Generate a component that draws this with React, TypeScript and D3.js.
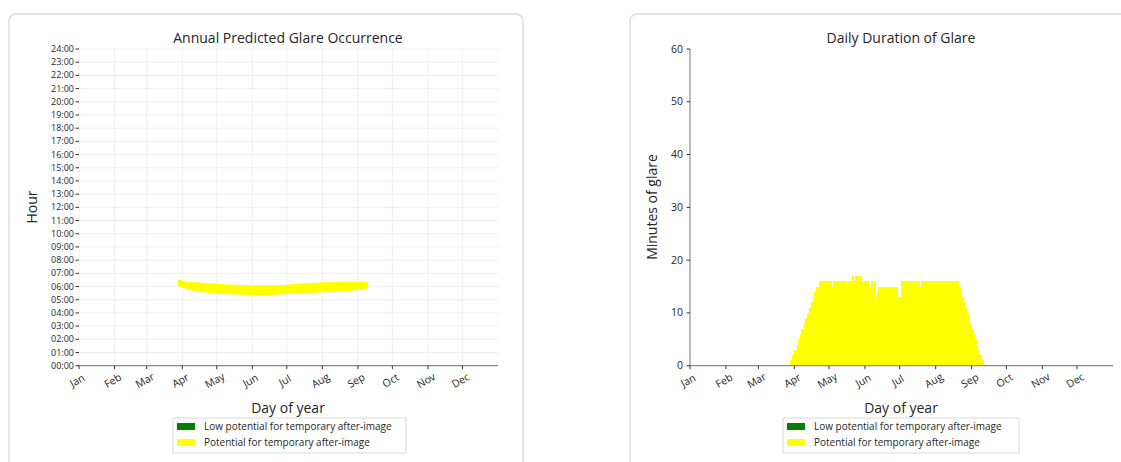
import React from "react";
import * as d3 from "d3";

const monthLabels = ["Jan", "Feb", "Mar", "Apr", "May", "Jun", "Jul", "Aug", "Sep", "Oct", "Nov", "Dec"];
const monthStartDays = [1, 32, 60, 91, 121, 152, 182, 213, 244, 274, 305, 335];
const hourTicks = d3.range(0, 25);
const minuteTicks = [0, 10, 20, 30, 40, 50, 60];

// Daily minutes of glare, starting on day 87 (Mar 28)
const glareFirstDay = 87;
const glareMinutes = [
  1, 1, 2, 2, 3, 3, 4, 5, 5, 6, 7, 7, 8, 9, 9, 10, 10, 11, 12, 12, 13, 14, 14, 15, 15, 16,
  16, 16, 16, 16, 16, 16, 16, 16, 16, 16, 15, 16, 16, 16, 16, 16, 15, 16, 16, 16, 16, 16, 16, 15, 16, 16, 16, 16,
  17, 16, 17, 16, 17, 16, 16, 17, 16,
  15, 16, 15, 16, 16, 15, 15, 16, 15, 15, 16,
  13, 14,
  15, 15, 15, 15, 15, 15, 15, 15, 15, 15, 15, 15, 15, 15, 15, 15, 15,
  13, 13, 13,
  16, 15, 16, 16, 16, 13, 16, 16, 15, 16, 16,
  16, 16, 16, 16, 16, 15, 16, 16, 16, 16, 16, 16, 16, 16, 15, 16, 16, 16, 16, 16, 16, 16, 16, 16, 16, 16, 15, 16, 16, 16, 16, 16, 16, 16, 16, 16, 16, 16,
  15, 15, 14, 13, 13, 12, 11, 10, 10, 9, 8, 7, 7, 6, 5, 5, 4, 3, 2, 2, 1, 1,
];

// Glare time-of-day band (mid time, hours) at key days
const bandDays = [88, 95, 105, 120, 135, 150, 165, 180, 195, 210, 225, 240, 252];
const bandMidHour = [6.27, 6.08, 5.96, 5.85, 5.77, 5.73, 5.73, 5.77, 5.86, 5.92, 5.96, 6.03, 6.1];

const legendItems = [
  { label: "Low potential for temporary after-image", color: "#008000" },
  { label: "Potential for temporary after-image", color: "#ffff00" },
];

const FONT = "'Open Sans', 'DejaVu Sans', sans-serif";
const TEXT = "#262626";
const SPINE = "#8a8a8a";

function minutesOn(day: number) {
  const i = Math.round(day) - glareFirstDay;
  return i >= 0 && i < glareMinutes.length ? glareMinutes[i] : 0;
}

function Legend({ x, y, w }: { x: number; y: number; w: number }) {
  return (
    <g>
      <rect x={x} y={y} width={w} height={35} fill="#fff" stroke="#d9d9d9" strokeWidth={1} />
      {legendItems.map((it, i) => (
        <g key={it.label}>
          <rect x={x + 4} y={y + 5 + i * 16} width={18} height={7} fill={it.color} />
          <text x={x + 31} y={y + 12 + i * 16} fontSize={10} fill={TEXT} fontFamily={FONT}>
            {it.label}
          </text>
        </g>
      ))}
    </g>
  );
}

function XAxis({ x, y0 }: { x: d3.ScaleLinear<number, number>; y0: number }) {
  const [r0, r1] = x.range();
  return (
    <g>
      <line x1={r0} x2={r1} y1={y0} y2={y0} stroke={SPINE} strokeWidth={1.2} />
      {monthStartDays.map((d, i) => (
        <g key={d}>
          <line x1={x(d)} x2={x(d)} y1={y0} y2={y0 + 3.5} stroke="#333" strokeWidth={1} />
          <text
            transform={`translate(${x(d)},${y0 + 18}) rotate(-30)`}
            textAnchor="middle"
            fontSize={10.5}
            fill={TEXT}
            fontFamily={FONT}
          >
            {monthLabels[i]}
          </text>
        </g>
      ))}
    </g>
  );
}

function AnnualChart() {
  const x = d3.scaleLinear().domain([1, 366]).range([79, 498]);
  const y = d3.scaleLinear().domain([0, 24]).range([365.7, 49]);
  const pts = bandDays.map((d, i) => ({ d, h: bandMidHour[i], m: minutesOn(d) }));
  const pxPerMin = (y(0) - y(1)) / 60;
  const area = d3
    .area<{ d: number; h: number; m: number }>()
    .x((p) => x(p.d))
    .y0((p) => y(p.h) + (p.m * pxPerMin) / 2 + 2.2)
    .y1((p) => y(p.h) - (p.m * pxPerMin) / 2 - 2.2)
    .curve(d3.curveMonotoneX);
  const [xa, xb] = x.range();
  return (
    <g>
      <rect x={9} y={14} width={514} height={470} rx={7} fill="#fff" stroke="#dcdcdc" strokeWidth={1.5} />
      {hourTicks.map((h) => (
        <line key={"h" + h} x1={xa} x2={xb} y1={y(h)} y2={y(h)} stroke="#ebebeb" strokeWidth={0.8} />
      ))}
      {monthStartDays.map((d) => (
        <line key={"v" + d} x1={x(d)} x2={x(d)} y1={y(0)} y2={y(24)} stroke="#ebebeb" strokeWidth={0.8} />
      ))}
      <path d={area(pts) || ""} fill="#ffff00" stroke="#ffff00" strokeWidth={2} strokeLinejoin="round" strokeLinecap="round" />
      {hourTicks.map((h) => (
        <g key={"t" + h}>
          <line x1={xa - 3.5} x2={xa} y1={y(h)} y2={y(h)} stroke="#333" strokeWidth={1} />
          <text x={xa - 5} y={y(h) + 3} textAnchor="end" fontSize={9} fill={TEXT} fontFamily={FONT}>
            {String(h).padStart(2, "0") + ":00"}
          </text>
        </g>
      ))}
      <XAxis x={x} y0={y(0)} />
      <text x={288} y={43} textAnchor="middle" fontSize={14} fill={TEXT} fontFamily={FONT}>
        Annual Predicted Glare Occurrence
      </text>
      <text transform={`translate(37,207) rotate(-90)`} textAnchor="middle" fontSize={14} fill={TEXT} fontFamily={FONT}>
        Hour
      </text>
      <text x={288} y={413} textAnchor="middle" fontSize={14} fill={TEXT} fontFamily={FONT}>
        Day of year
      </text>
      <Legend x={173} y={418} w={233} />
    </g>
  );
}

function DailyChart() {
  const x = d3.scaleLinear().domain([1, 366]).range([690, 1113]);
  const y = d3.scaleLinear().domain([0, 60]).range([365.7, 49]);
  const bars = glareMinutes.map((m, i) => ({ d: glareFirstDay + i, m }));
  return (
    <g>
      <rect x={630} y={14} width={520} height={470} rx={7} fill="#fff" stroke="#dcdcdc" strokeWidth={1.5} />
      <g shapeRendering="crispEdges">
        {bars.map((b) => (
          <rect
            key={b.d}
            x={x(b.d)}
            y={y(b.m)}
            width={x(b.d + 1) - x(b.d) + 0.8}
            height={y(0) - y(b.m)}
            fill="#ffff00"
          />
        ))}
      </g>
      <line x1={690} x2={690} y1={y(0)} y2={y(60)} stroke={SPINE} strokeWidth={1.2} />
      {minuteTicks.map((t) => (
        <g key={t}>
          <line x1={686.5} x2={690} y1={y(t)} y2={y(t)} stroke="#333" strokeWidth={1} />
          <text x={683} y={y(t) + 3.5} textAnchor="end" fontSize={10.5} fill={TEXT} fontFamily={FONT}>
            {t}
          </text>
        </g>
      ))}
      <XAxis x={x} y0={y(0)} />
      <text x={901} y={43} textAnchor="middle" fontSize={14} fill={TEXT} fontFamily={FONT}>
        Daily Duration of Glare
      </text>
      <text transform={`translate(657,207) rotate(-90)`} textAnchor="middle" fontSize={14} fill={TEXT} fontFamily={FONT}>
        Minutes of glare
      </text>
      <text x={901} y={413} textAnchor="middle" fontSize={14} fill={TEXT} fontFamily={FONT}>
        Day of year
      </text>
      <Legend x={783} y={418} w={236} />
    </g>
  );
}

export default function App() {
  return (
    <svg
      width={1121}
      height={462}
      style={{ position: "absolute", left: 0, top: 0, background: "#fff" }}
      xmlns="http://www.w3.org/2000/svg"
    >
      <rect x={0} y={0} width={1121} height={462} fill="#fff" />
      <AnnualChart />
      <DailyChart />
    </svg>
  );
}
